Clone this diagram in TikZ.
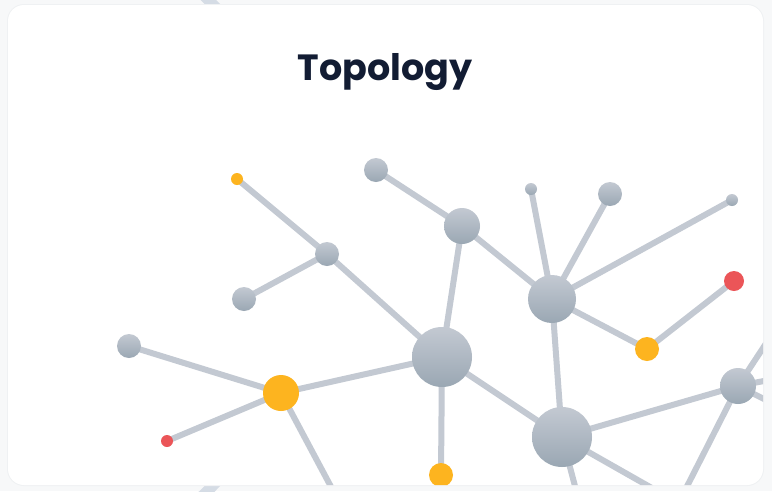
\documentclass[tikz,border=0pt]{standalone}
\usepackage{fontspec}
\setmainfont{Poppins}
\usepackage{tikz}
\usetikzlibrary{backgrounds}

\definecolor{pagebg}{HTML}{F7F8F9}
\definecolor{cardedge}{HTML}{EFF1F3}
\definecolor{arcgray}{HTML}{D5DCE5}
\definecolor{linkgray}{HTML}{C3C9D2}
\definecolor{nodetop}{HTML}{C3C9D2}
\definecolor{nodebot}{HTML}{9AA7B3}
\definecolor{hotyellow}{HTML}{FDB41F}
\definecolor{alertred}{HTML}{EB5558}
\definecolor{titleink}{HTML}{121C33}

\pgfdeclarelayer{links}
\pgfsetlayers{background,links,main}

\begin{document}
\begin{tikzpicture}[
    x=1pt, y=-1pt,
    hostnode/.style={circle, inner sep=0pt, top color=nodetop, bottom color=nodebot, minimum size=#1},
    warnnode/.style={circle, inner sep=0pt, fill=hotyellow, minimum size=#1},
    failnode/.style={circle, inner sep=0pt, fill=alertred, minimum size=#1},
    link/.style={draw=linkgray, line width=6pt}
]
    \useasboundingbox (0,0) rectangle (772,491);
    \begin{pgfonlayer}{background}
    \fill[pagebg] (0,0) rectangle (772,491);
    \draw[arcgray, line width=11pt] (-33,245) circle (344);
    \fill[cardedge, rounded corners=17pt] (7,4) rectangle (764,486);
    \fill[white, rounded corners=16pt] (8,5) rectangle (763,485);
    \end{pgfonlayer}

    \node (title) [anchor=base, text=titleink, font=\fontsize{36.5}{40}\selectfont\bfseries] at (385,80) {Topology};

    \begin{scope}
    \clip[rounded corners=16pt] (8,5) rectangle (763,485);

    % hosts
    \node (core)   [hostnode=60pt] at (442,357) {};
    \node (hubq)   [hostnode=60pt] at (562,437) {};
    \node (hubn)   [hostnode=48pt] at (552,299) {};
    \node (hubc)   [hostnode=36pt] at (462,226) {};
    \node (hubr)   [hostnode=36pt] at (738,386) {};
    \node (leafb)  [hostnode=24pt] at (376,170) {};
    \node (leafd)  [hostnode=24pt] at (327,254) {};
    \node (leafe)  [hostnode=24pt] at (244,299) {};
    \node (leaff)  [hostnode=24pt] at (129,346) {};
    \node (leafl)  [hostnode=24pt] at (610,194) {};
    \node (leafk)  [hostnode=12pt] at (531,189) {};
    \node (leafm)  [hostnode=12pt] at (732,200) {};

    % warnings and failures
    \node (warng)  [warnnode=36pt] at (281,393) {};
    \node (warnp)  [warnnode=24pt] at (647,349) {};
    \node (warnj)  [warnnode=24pt] at (441,475) {};
    \node (warna)  [warnnode=12pt] at (237,179) {};
    \node (faili)  [failnode=12pt] at (167,441) {};
    \node (failo)  [failnode=20pt] at (734,281) {};

    % links leaving the card
    \coordinate (outg)  at (345,513);
    \coordinate (outq)  at (580,505);
    \coordinate (outqr) at (680,504);
    \coordinate (outru) at (790,307);
    \coordinate (outrr) at (800,374);
    \coordinate (outrd) at (800,417);
    \coordinate (outrl) at (675,510);
    \end{scope}

    \begin{pgfonlayer}{links}
    \clip[rounded corners=16pt] (8,5) rectangle (763,485);
    \draw[link] (warna.center) -- (leafd.center);
    \draw[link] (leafb.center) -- (hubc.center);
    \draw[link] (hubc.center) -- (core.center);
    \draw[link] (hubc.center) -- (hubn.center);
    \draw[link] (leafd.center) -- (core.center);
    \draw[link] (leafd.center) -- (leafe.center);
    \draw[link] (leaff.center) -- (warng.center);
    \draw[link] (warng.center) -- (core.center);
    \draw[link] (warng.center) -- (faili.center);
    \draw[link] (warng.center) -- (outg);
    \draw[link] (core.center) -- (warnj.center);
    \draw[link] (core.center) -- (hubq.center);
    \draw[link] (hubn.center) -- (leafk.center);
    \draw[link] (hubn.center) -- (leafl.center);
    \draw[link] (hubn.center) -- (leafm.center);
    \draw[link] (hubn.center) -- (warnp.center);
    \draw[link] (hubn.center) -- (hubq.center);
    \draw[link] (warnp.center) -- (failo.center);
    \draw[link] (hubq.center) -- (hubr.center);
    \draw[link] (hubq.center) -- (outq);
    \draw[link] (hubq.center) -- (outqr);
    \draw[link] (hubr.center) -- (outru);
    \draw[link] (hubr.center) -- (outrr);
    \draw[link] (hubr.center) -- (outrd);
    \draw[link] (hubr.center) -- (outrl);
    \end{pgfonlayer}
\end{tikzpicture}
\end{document}
